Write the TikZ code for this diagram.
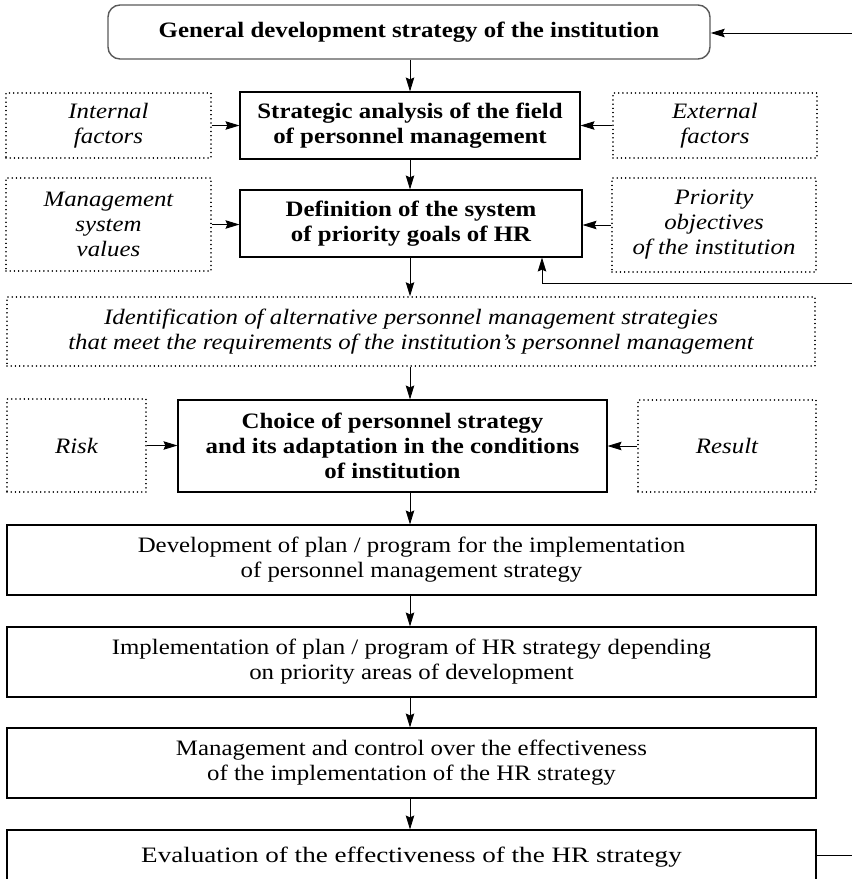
\documentclass[tikz,border=0pt]{standalone}
\usepackage{fontspec}
\setmainfont{Liberation Serif}[FakeStretch=1.13]
\usetikzlibrary{arrows.meta}
\begin{document}
\begin{tikzpicture}[x=1pt,y=-1pt,
  every node/.style={inner sep=0pt,align=center,font=\fontsize{22}{25}\selectfont},
  solidbox/.style={draw,line width=1.1pt},
  boldbox/.style={solidbox,font=\fontsize{22}{25}\selectfont\bfseries},
  dotbox/.style={draw,line width=1.6pt,dash pattern=on 0.01pt off 4.2pt,line cap=round,font=\fontsize{22}{25}\selectfont\itshape},
  arr/.style={line width=0.9pt,-{Stealth[length=14pt,width=8.5pt,inset=2pt]}},
  ln/.style={line width=0.9pt}
]
\useasboundingbox (0,0) rectangle (852,879);
\newcommand\bx[6]{\node[#1,minimum width=#4-#2,minimum height=#5-#3] (#6) at ({(#2+#4)/2},{(#3+#5)/2})}
\bx{boldbox,draw=black!65,line width=1.4pt,rounded corners=12pt}{108}{5}{710}{59}{top}{General development strategy of the institution};
\bx{dotbox}{6}{93}{211}{158}{intf}{Internal\\factors};
\bx{boldbox}{240}{92}{580}{159}{strat}{Strategic analysis of the field\\of personnel management};
\bx{dotbox}{613}{93}{817}{158}{extf}{External\\factors};
\bx{dotbox}{6}{178}{211}{271}{msv}{Management\\system\\values};
\bx{boldbox}{240}{190}{582}{257}{defn}{Definition of the system\\of priority goals of HR};
\bx{dotbox}{612}{178}{816}{272}{prio}{Priority\\objectives\\of the institution};
\bx{dotbox}{7}{297}{815}{366}{ident}{Identification of alternative personnel management strategies\\that meet the requirements of the institution's personnel management};
\bx{dotbox}{7}{399}{146}{492}{risk}{Risk};
\bx{boldbox}{178}{400}{607}{492}{choice}{Choice of personnel strategy\\and its adaptation in the conditions\\of institution};
\bx{dotbox}{638}{400}{816}{492}{result}{Result};
\bx{solidbox}{7}{525}{816}{595}{devp}{Development of plan / program for the implementation\\of personnel management strategy};
\bx{solidbox}{7}{627}{816}{697}{impl}{Implementation of plan / program of HR strategy depending\\on priority areas of development};
\bx{solidbox}{7}{728}{816}{798}{mctl}{Management and control over the effectiveness\\of the implementation of the HR strategy};
\bx{solidbox}{7}{830}{816}{884}{eval}{\scalebox{1.09}[1]{Evaluation of the effectiveness of the HR strategy}};
\coordinate (cx) at (410,0);
\coordinate (fbA) at (852,33);
\coordinate (fbB) at (852,283);
\coordinate (fbBx) at (542,283);
\coordinate (fbC) at (852,855);
\draw[arr] (top.south -| cx) -- (strat.north -| cx);
\draw[arr] (strat.south -| cx) -- (defn.north -| cx);
\draw[arr] (defn.south -| cx) -- (ident.north -| cx);
\draw[arr] (ident.south -| cx) -- (choice.north -| cx);
\draw[arr] (choice.south -| cx) -- (devp.north -| cx);
\draw[arr] (devp.south -| cx) -- (impl.north -| cx);
\draw[arr] (impl.south -| cx) -- (mctl.north -| cx);
\draw[arr] (mctl.south -| cx) -- (eval.north -| cx);
\draw[arr] (intf.east) -- (intf.east -| strat.west);
\draw[arr] (extf.west) -- (extf.west -| strat.east);
\draw[arr] (msv.east) -- (msv.east -| defn.west);
\draw[arr] (prio.west) -- (prio.west -| defn.east);
\draw[arr] (risk.east) -- (risk.east -| choice.west);
\draw[arr] (result.west) -- (result.west -| choice.east);
\draw[arr] (fbA) -- (fbA -| top.east);
\draw[arr] (fbB) -- (fbBx) -- (fbBx |- defn.south);
\draw[ln] (fbC -| eval.east) -- (fbC);
\end{tikzpicture}
\end{document}
